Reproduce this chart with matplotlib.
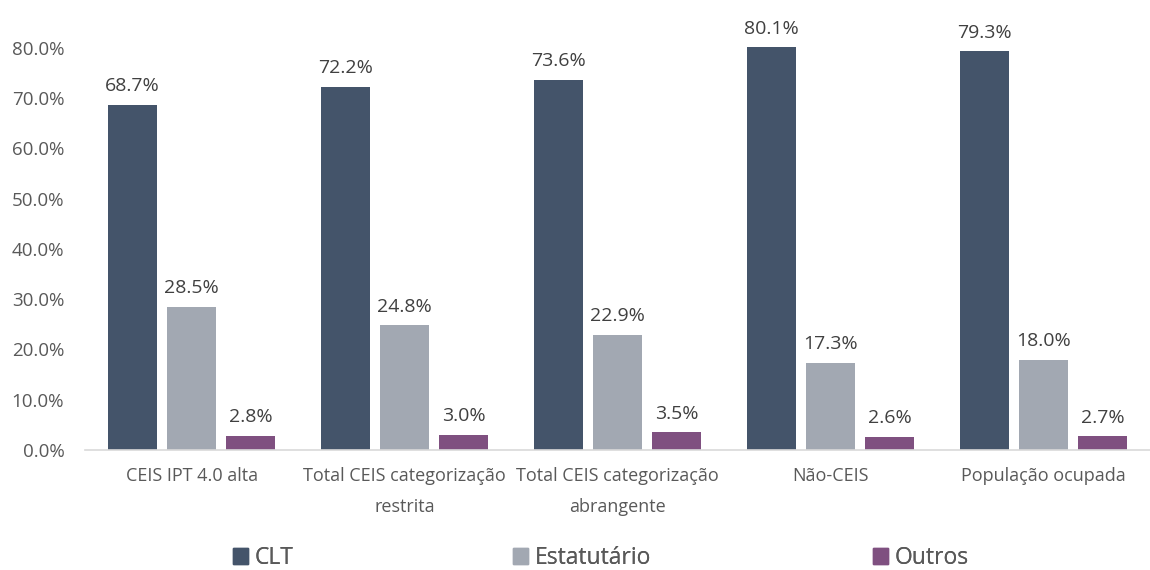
import matplotlib
matplotlib.use("Agg")
import matplotlib.pyplot as plt
from matplotlib.patches import Patch
import numpy as np

plt.rcParams['font.family'] = ['Open Sans', 'DejaVu Sans']

categories = ["CEIS IPT 4.0 alta", "Total CEIS categorização\nrestrita",
              "Total CEIS categorização\nabrangente", "Não-CEIS", "População ocupada"]
series_names = ["CLT", "Estatutário", "Outros"]
clt = [68.7, 72.2, 73.6, 80.1, 79.3]
estatutario = [28.5, 24.8, 22.9, 17.3, 18.0]
outros = [2.8, 3.0, 3.5, 2.6, 2.7]
yticks = [0, 10, 20, 30, 40, 50, 60, 70, 80]
colors = ["#44546A", "#A2A8B2", "#7F5080"]

W, H = 1150, 570
fig = plt.figure(figsize=(11.5, 5.7), dpi=100)
ax = fig.add_axes([0.074, 0.2105, 0.926, 0.7895])

x = np.arange(len(categories))
w = 0.23
step = 0.277
for i, (vals, name, c) in enumerate(zip([clt, estatutario, outros], series_names, colors)):
    pos = x + (i - 1) * step
    ax.bar(pos, vals, width=w, color=c, label=name)
    for p, v in zip(pos, vals):
        ax.text(p, v + 1.9, f"{v:.1f}%", ha="center", va="bottom",
                fontsize=14, color="#404040")

ax.set_xlim(-0.5, len(categories) - 0.5)
ax.set_ylim(0, 89.5)
ax.set_yticks(yticks)
ax.set_yticklabels([f"{t:.1f}%" for t in yticks], fontsize=13.5, color="#595959")
ax.set_xticks(x)
ax.set_xticklabels(categories, fontsize=13, color="#595959", linespacing=1.95)
ax.tick_params(axis="both", length=0)
ax.tick_params(axis="x", pad=12)
ax.tick_params(axis="y", pad=15)
for s in ["top", "right", "left"]:
    ax.spines[s].set_visible(False)
ax.spines["bottom"].set_color("#D9D9D9")
ax.spines["bottom"].set_linewidth(1.2)

# legend entries placed individually
leg_x = [233, 513, 873]
for name, c, lx in zip(series_names, colors, leg_x):
    lg = fig.legend(handles=[Patch(color=c, label=name)], loc="center left",
                    bbox_to_anchor=(lx / W, 1 - 558 / H), frameon=False,
                    fontsize=16.5, handlelength=0.65, handleheight=0.65,
                    handletextpad=0.3, labelcolor="#595959", borderpad=0,
                    borderaxespad=0)
    fig.add_artist(lg)

fig.savefig("out.png", dpi=100)
